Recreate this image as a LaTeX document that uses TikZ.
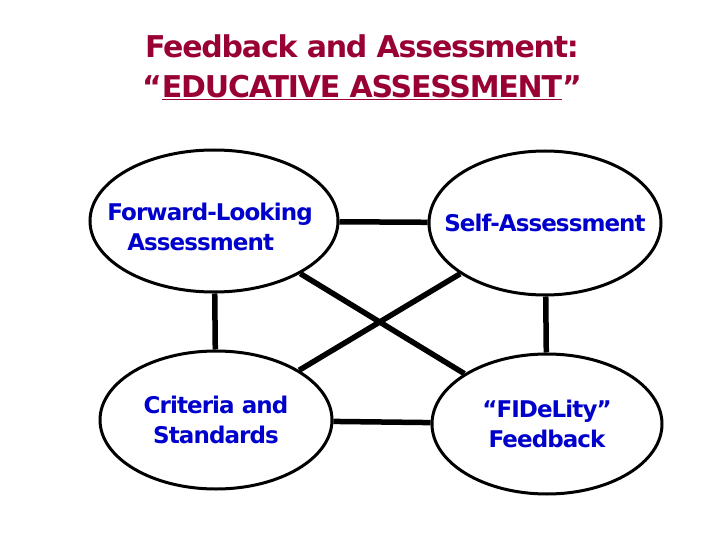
\documentclass[tikz,border=0pt]{standalone}
\usepackage{fontspec}
\setmainfont{DejaVu Sans}
\usepackage{xcolor}
\definecolor{TitleRed}{RGB}{153,0,51}
\definecolor{TextBlue}{RGB}{0,0,204}
\usetikzlibrary{shapes.geometric}

\begin{document}
\begin{tikzpicture}[x=1pt,y=-1pt,
        bubble/.style={ellipse,draw,line width=3pt,fill=white,inner sep=0pt},
        bubbletext/.style={text=TextBlue,font=\fontsize{23}{30}\selectfont\bfseries\addfontfeatures{LetterSpace=-4},align=center},
        link/.style={line width=5.5pt}]
       \useasboundingbox (0,0) rectangle (720,540);
       \node[text=TitleRed,font=\fontsize{30}{40}\selectfont\bfseries\addfontfeatures{LetterSpace=-4},align=center] (title) at (362,67) {Feedback and Assessment:\\“\underline{EDUCATIVE ASSESSMENT}”};
       \node[bubble,minimum width=248,minimum height=142,label={[bubbletext,align=left,xshift=-4pt,yshift=-6pt]center:{Forward-Looking\\\hspace*{20pt}Assessment}}] (forward) at (214,221) {};
       \node[bubble,minimum width=232,minimum height=144,label={[bubbletext]center:{Self-Assessment}}] (self) at (545,223) {};
       \node[bubble,minimum width=232,minimum height=138,label={[bubbletext]center:{Criteria and\\Standards}}] (criteria) at (216,420) {};
       \node[bubble,minimum width=230,minimum height=140,label={[bubbletext]center:{“FIDeLity”\\Feedback}}] (fidelity) at (547,424) {};
       \draw[link] (forward) -- (self);
       \draw[link] (forward) -- (criteria);
       \draw[link] (self) -- (fidelity);
       \draw[link] (criteria) -- (fidelity);
       \draw[link] (forward) -- (fidelity);
       \draw[link] (criteria) -- (self);
\end{tikzpicture}
\end{document}
